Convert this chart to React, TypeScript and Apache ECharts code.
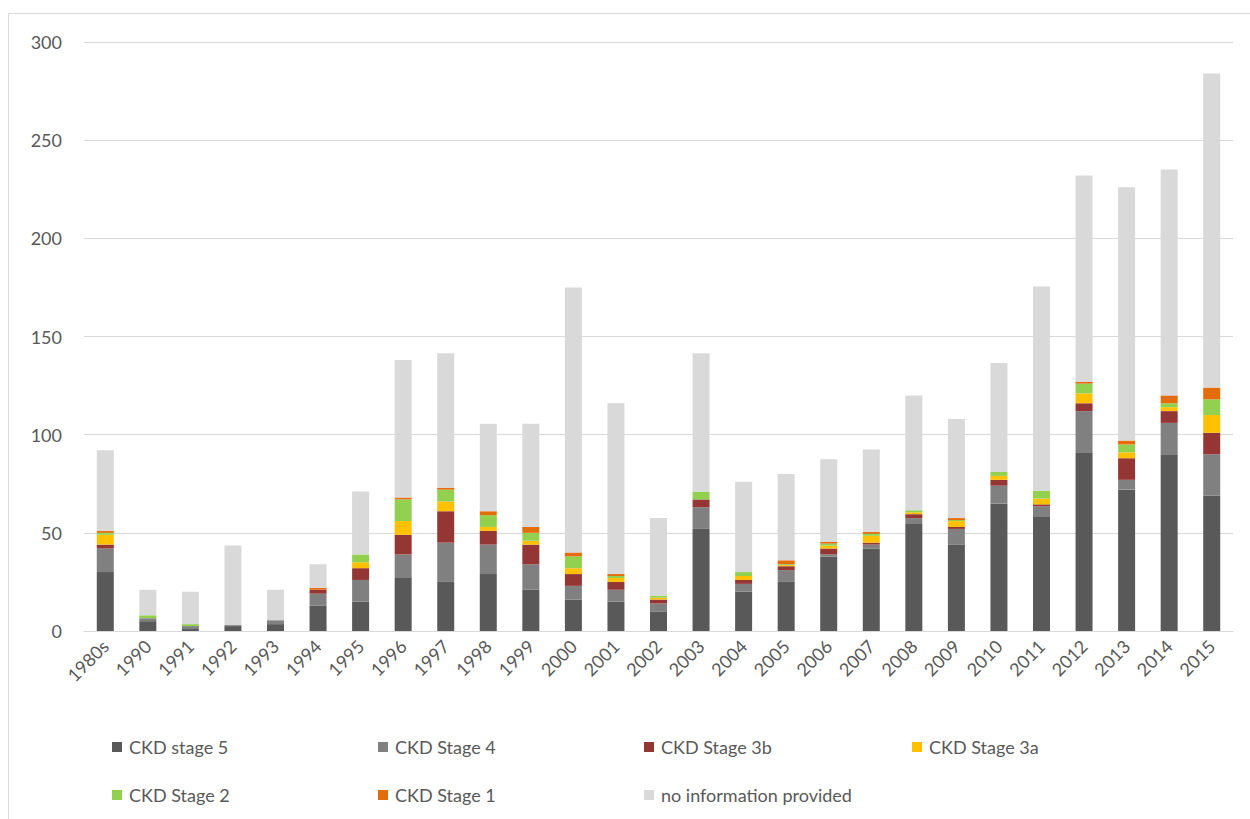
import React, { useEffect, useRef } from "react";
import * as echarts from "echarts";

const categories = ["1980s", "1990", "1991", "1992", "1993", "1994", "1995", "1996", "1997", "1998", "1999", "2000", "2001", "2002", "2003", "2004", "2005", "2006", "2007", "2008", "2009", "2010", "2011", "2012", "2013", "2014", "2015"];

const stage5 = [30, 5, 1, 2.5, 3.5, 13, 15, 27, 25, 29, 21, 16, 15, 10, 52, 20, 25, 38, 42, 54.5, 44, 65, 58.5, 91, 72, 90, 69];
const stage4 = [12, 1.5, 1.5, 0.5, 2, 6, 11, 12, 20, 15, 13, 7, 6, 4, 11, 4, 6, 1, 2, 3, 8, 9, 5, 21, 5, 16, 21];
const stage3b = [2, 0, 0, 0, 0, 2, 6, 10, 16, 7, 10, 6, 4, 2, 4, 2, 2, 3, 1, 2, 1, 3, 1, 4, 11, 6, 11];
const stage3a = [5, 0, 0, 0, 0, 0, 3, 7, 5, 2, 2, 3, 2, 1, 0, 2, 0.5, 1.5, 3.5, 1, 3, 2, 3, 5, 3, 2, 9];
const stage2 = [1, 1.5, 1, 0, 0, 0, 4, 11, 6, 6, 4, 6, 1, 1, 4, 2, 0.5, 1, 1, 1, 0.5, 2, 4, 5, 4, 2, 8];
const stage1 = [1, 0, 0, 0, 0, 1, 0, 1, 1, 2, 3, 2, 1, 0, 0, 0, 2, 1, 1, 0, 1, 0, 0, 1, 2, 4, 6];
const noInfo = [41, 13, 16.5, 40.5, 15.5, 12, 32, 70, 68.5, 44.5, 52.5, 135, 87, 39.5, 70.5, 46, 44, 42, 42, 58.5, 50.5, 55.5, 104, 105, 129, 115, 160];

const yTicks = [0, 50, 100, 150, 200, 250, 300];

const seriesDefs = [
  { name: "CKD stage 5", data: stage5, color: "#595959" },
  { name: "CKD Stage 4", data: stage4, color: "#808080" },
  { name: "CKD Stage 3b", data: stage3b, color: "#943634" },
  { name: "CKD Stage 3a", data: stage3a, color: "#FFC000" },
  { name: "CKD Stage 2", data: stage2, color: "#92D050" },
  { name: "CKD Stage 1", data: stage1, color: "#E46C0A" },
  { name: "no information provided", data: noInfo, color: "#D9D9D9" },
];

const legendPos = [
  { left: 112, top: 738 },
  { left: 378, top: 738 },
  { left: 644, top: 738 },
  { left: 912, top: 738 },
  { left: 112, top: 786 },
  { left: 378, top: 786 },
  { left: 644, top: 786 },
];

const FONT = "Lato";
const TEXT_COLOR = "#595959";

export default function App() {
  const ref = useRef<HTMLDivElement>(null);

  useEffect(() => {
    if (!ref.current) return;
    const chart = echarts.init(ref.current, null, { renderer: "svg" });
    const option: any = {
      animation: false,
      backgroundColor: "#ffffff",
      textStyle: { fontFamily: FONT },
      graphic: [
        {
          type: "rect",
          silent: true,
          z: -10,
          shape: { x: 8.5, y: 13.5, width: 1400, height: 1000 },
          style: { fill: "none", stroke: "#d9d9d9", lineWidth: 1 },
        },
      ],
      grid: {
        left: 84,
        right: 17,
        top: 42,
        bottom: 188,
        containLabel: false,
        outerBoundsMode: "none",
      },
      legend: seriesDefs.map((s, i) => ({
        data: [s.name],
        left: legendPos[i].left,
        top: legendPos[i].top,
        padding: 0,
        icon: "rect",
        itemWidth: 10,
        itemHeight: 10,
        selectedMode: false,
        textStyle: { fontFamily: FONT, fontSize: 18, color: TEXT_COLOR, padding: [0, 0, 0, 2] },
      })),
      xAxis: {
        type: "category",
        data: categories,
        axisTick: { show: false },
        axisLine: { show: true, lineStyle: { color: "#d9d9d9", width: 1 } },
        axisLabel: {
          rotate: 45,
          interval: 0,
          margin: 12,
          fontFamily: FONT,
          fontSize: 18,
          color: TEXT_COLOR,
        },
      },
      yAxis: {
        type: "value",
        min: yTicks[0],
        max: yTicks[yTicks.length - 1],
        interval: 50,
        axisLine: { show: false },
        axisTick: { show: false },
        splitLine: { lineStyle: { color: "#d9d9d9", width: 1 } },
        axisLabel: {
          margin: 22,
          fontFamily: FONT,
          fontSize: 18,
          color: TEXT_COLOR,
        },
      },
      series: seriesDefs.map((s) => ({
        name: s.name,
        type: "bar",
        stack: "total",
        data: s.data,
        barWidth: 17,
        itemStyle: { color: s.color },
        emphasis: { disabled: true },
      })),
    };
    chart.setOption(option);
    return () => {
      chart.dispose();
    };
  }, []);

  return (
    <div
      ref={ref}
      style={{ position: "absolute", left: 0, top: 0, width: 1250, height: 819 }}
    />
  );
}
